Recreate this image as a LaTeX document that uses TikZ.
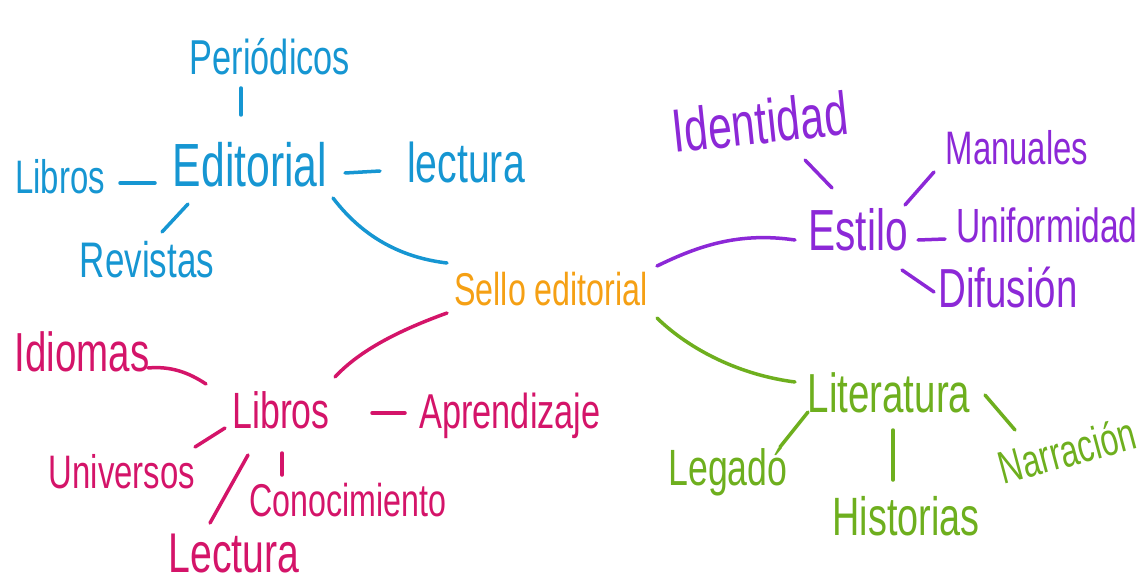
\documentclass[tikz,border=0pt]{standalone}
\usepackage{fontspec}
\newfontfamily\hand[FakeStretch=0.7]{Liberation Sans}
\newcommand\fsz[1]{\hand\fontsize{#1}{#1}\selectfont}
\definecolor{cblue}{RGB}{22,150,210}
\definecolor{corange}{RGB}{245,160,20}
\definecolor{cpurple}{RGB}{140,40,215}
\definecolor{cgreen}{RGB}{110,175,30}
\definecolor{cpink}{RGB}{212,20,105}
\tikzset{
  lbl/.style={inner sep=0pt, anchor=center},
  conn/.style={line width=3.5pt, line cap=round},
}
\begin{document}
\begin{tikzpicture}[x=1pt,y=-1pt]
\useasboundingbox (0,0) rectangle (1142,583);
% blue
\begin{scope}[every node/.style={lbl,text=cblue}]
\node[font=\fsz{49}] (peri) at (270,57) {Periódicos};
\node[font=\fsz{61}] (ed) at (250,165) {Editorial};
\node[font=\fsz{47}] (libT) at (60,177) {Libros};
\node[font=\fsz{56}] (lecT) at (466,162) {lectura};
\node[font=\fsz{50}] (rev) at (147,260) {Revistas};
\end{scope}
\node[lbl,text=corange,font=\fsz{46}] (sello) at (551,289) {Sello editorial};
% purple
\begin{scope}[every node/.style={lbl,text=cpurple}]
\node[font=\fsz{61},rotate=6] (ident) at (760,122) {Identidad};
\node[font=\fsz{58}] (estilo) at (858,230) {Estilo};
\node[font=\fsz{47}] (manu) at (1017,148) {Manuales};
\node[font=\fsz{48}] (unif) at (1047,225) {Uniformidad};
\node[font=\fsz{55}] (dif) at (1008,288) {Difusión};
\end{scope}
% green
\begin{scope}[every node/.style={lbl,text=cgreen}]
\node[font=\fsz{55}] (lit) at (889,393) {Literatura};
\node[font=\fsz{51}] (leg) at (728,472) {Legadó};
\node[font=\fsz{54}] (hist) at (906,516) {Historias};
\node[font=\fsz{46},rotate=15] (narr) at (1067,450) {Narración};
\end{scope}
% pink
\begin{scope}[every node/.style={lbl,text=cpink}]
\node[font=\fsz{55}] (idi) at (82,352) {Idiomas};
\node[font=\fsz{51}] (libP) at (281,410) {Libros};
\node[font=\fsz{49}] (apr) at (510,416) {Aprendizaje};
\node[font=\fsz{47}] (univ) at (122,472) {Universos};
\node[font=\fsz{56}] (lecB) at (234,554) {Lectura};
\node[font=\fsz{46}] (cono) at (348,500) {Conocimiento};
\end{scope}
% blue connectors
\begin{scope}[conn,cblue]
\draw ([shift={(-29,31)}]peri.center) -- ([shift={(-9,-50)}]ed.center);
\draw ([shift={(60,6)}]libT.center) -- ([shift={(-95,18)}]ed.center);
\draw ([shift={(95,8)}]ed.center) -- ([shift={(-86,9)}]lecT.center);
\draw ([shift={(-62,39)}]ed.center) -- ([shift={(15,-28)}]rev.center);
\draw ([shift={(83,33)}]ed.center) .. controls (365,240) and (405,258) .. ([shift={(-104,-26)}]sello.center);
\end{scope}
% purple connectors
\begin{scope}[conn,cpurple]
\draw ([shift={(106,-23)}]sello.center) .. controls (700,245) and (740,232) .. ([shift={(-63,10)}]estilo.center);
\draw ([shift={(45,38)}]ident.center) -- ([shift={(-26,-42)}]estilo.center);
\draw ([shift={(47,-25)}]estilo.center) -- ([shift={(-83,24)}]manu.center);
\draw ([shift={(60,10)}]estilo.center) -- ([shift={(-102,14)}]unif.center);
\draw ([shift={(44,40)}]estilo.center) -- ([shift={(-74,4)}]dif.center);
\end{scope}
% green connectors
\begin{scope}[conn,cgreen]
\draw ([shift={(106,29)}]sello.center) .. controls (690,350) and (740,375) .. ([shift={(-94,-11)}]lit.center);
\draw ([shift={(-81,19)}]lit.center) -- ([shift={(52,-25)}]leg.center);
\draw ([shift={(4,37)}]lit.center) -- ([shift={(-13,-36)}]hist.center);
\draw ([shift={(96,2)}]lit.center) -- ([shift={(-52,-20)}]narr.center);
\end{scope}
% pink connectors
\begin{scope}[conn,cpink]
\draw ([shift={(-104,24)}]sello.center) .. controls (400,330) and (360,350) .. ([shift={(54,-33)}]libP.center);
\draw ([shift={(66,16)}]idi.center) .. controls (170,366) and (188,372) .. ([shift={(-75,-26)}]libP.center);
\draw ([shift={(91,3)}]libP.center) -- ([shift={(-105,-3)}]apr.center);
\draw ([shift={(-56,18)}]libP.center) -- ([shift={(73,-25)}]univ.center);
\draw ([shift={(-33,45)}]libP.center) -- ([shift={(-24,-31)}]lecB.center);
\draw ([shift={(1,43)}]libP.center) -- ([shift={(-66,-25)}]cono.center);
\end{scope}
\end{tikzpicture}
\end{document}
